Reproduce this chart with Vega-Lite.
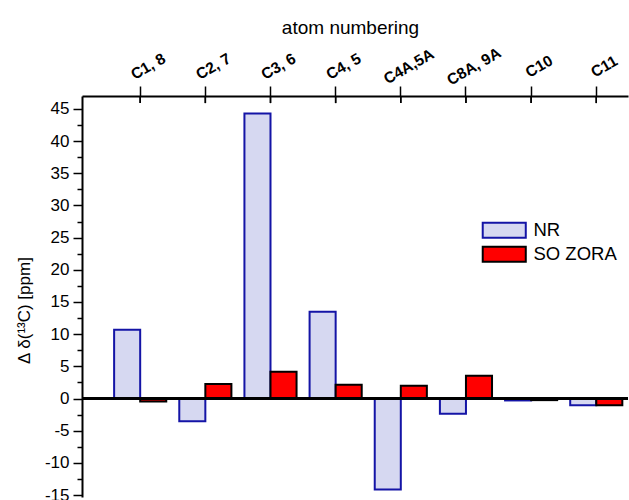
{
  "$schema": "https://vega.github.io/schema/vega-lite/v6.json",
  "width": 546,
  "height": 401,
  "autosize": "none",
  "padding": {"left": 82, "top": 96, "right": 1, "bottom": 3},
  "background": "white",
  "config": {
    "view": {"stroke": null},
    "font": "Liberation Sans",
    "axis": {"labelFont": "Liberation Sans", "titleFont": "Liberation Sans", "labelColor": "black", "titleColor": "black", "domainColor": "black", "tickColor": "black", "grid": false}
  },
  "data": {
    "values": [
      {"atom": "C1, 8", "series": "NR", "value": 10.7},
      {"atom": "C1, 8", "series": "SO ZORA", "value": -0.45},
      {"atom": "C2, 7", "series": "NR", "value": -3.55},
      {"atom": "C2, 7", "series": "SO ZORA", "value": 2.25},
      {"atom": "C3, 6", "series": "NR", "value": 44.3},
      {"atom": "C3, 6", "series": "SO ZORA", "value": 4.15},
      {"atom": "C4, 5", "series": "NR", "value": 13.5},
      {"atom": "C4, 5", "series": "SO ZORA", "value": 2.15},
      {"atom": "C4A,5A", "series": "NR", "value": -14.15},
      {"atom": "C4A,5A", "series": "SO ZORA", "value": 2.0},
      {"atom": "C8A, 9A", "series": "NR", "value": -2.35},
      {"atom": "C8A, 9A", "series": "SO ZORA", "value": 3.55},
      {"atom": "C10", "series": "NR", "value": -0.3},
      {"atom": "C10", "series": "SO ZORA", "value": -0.25},
      {"atom": "C11", "series": "NR", "value": -1.05},
      {"atom": "C11", "series": "SO ZORA", "value": -1.05}
    ]
  },
  "encoding": {
    "x": {
      "field": "atom", "type": "nominal", "sort": null,
      "scale": {"paddingInner": 0.2, "paddingOuter": 0.29, "align": 0.85},
      "axis": {
        "orient": "top",
        "title": "atom numbering",
        "titleFontSize": 19, "titleFontWeight": "normal",
        "titleX": 268, "titleY": -69, "titleAlign": "center", "titleBaseline": "middle",
        "labelAngle": -30, "labelFontSize": 15.5, "labelFontWeight": "bold",
        "labelAlign": "center", "labelBaseline": "middle",
        "labelPadding": 20, "labelOffset": 8,
        "tickSize": 10, "tickWidth": 1.5, "domainWidth": 2
      }
    },
    "y": {
      "field": "value", "type": "quantitative",
      "scale": {"domain": [-15.3, 47], "nice": false, "zero": false},
      "axis": {
        "orient": "left",
        "title": "Δ δ(¹³C) [ppm]",
        "titleFontSize": 17, "titleFontWeight": "normal",
        "titleX": -58, "titleY": 214, "titleAlign": "center", "titleBaseline": "middle", "titleAngle": -90,
        "values": [-15, -12.5, -10, -7.5, -5, -2.5, 0, 2.5, 5, 7.5, 10, 12.5, 15, 17.5, 20, 22.5, 25, 27.5, 30, 32.5, 35, 37.5, 40, 42.5, 45],
        "labelExpr": "datum.value % 5 === 0 ? '' + datum.value : ''",
        "labelOverlap": false,
        "labelFontSize": 17, "labelPadding": 4,
        "tickSize": {"condition": {"test": "datum.value % 5 === 0", "value": 9}, "value": 5},
        "tickWidth": 1.5, "domainWidth": 2
      }
    }
  },
  "layer": [
    {
      "mark": {"type": "bar", "strokeWidth": 2},
      "encoding": {
        "xOffset": {"field": "series", "type": "nominal", "scale": {"paddingInner": 0, "paddingOuter": 0}},
        "fill": {
          "field": "series", "type": "nominal",
          "scale": {"domain": ["NR", "SO ZORA"], "range": ["#d6d8f1", "#ff0000"]},
          "legend": {
            "orient": "none", "legendX": 413, "legendY": 125, "title": null,
            "symbolType": "M-2.87,-1H2.87V1H-2.87Z", "symbolSize": 225,
            "symbolStrokeWidth": 2, "labelFontSize": 18.5, "labelFont": "Liberation Sans", "labelColor": "black",
            "labelOffset": 20, "rowPadding": 0, "padding": 0
          }
        },
        "stroke": {
          "field": "series", "type": "nominal",
          "scale": {"domain": ["NR", "SO ZORA"], "range": ["#1414a6", "#000000"]},
          "legend": null
        }
      }
    },
    {
      "mark": {"type": "rule", "color": "black", "strokeWidth": 1.5},
      "encoding": {"x": null, "y": {"datum": 0, "type": "quantitative", "axis": {
        "orient": "left",
        "title": "Δ δ(¹³C) [ppm]",
        "titleFontSize": 17, "titleFontWeight": "normal",
        "titleX": -58, "titleY": 214, "titleAlign": "center", "titleBaseline": "middle", "titleAngle": -90,
        "values": [-15, -12.5, -10, -7.5, -5, -2.5, 0, 2.5, 5, 7.5, 10, 12.5, 15, 17.5, 20, 22.5, 25, 27.5, 30, 32.5, 35, 37.5, 40, 42.5, 45],
        "labelExpr": "datum.value % 5 === 0 ? '' + datum.value : ''",
        "labelOverlap": false,
        "labelFontSize": 17, "labelPadding": 4,
        "tickSize": {"condition": {"test": "datum.value % 5 === 0", "value": 9}, "value": 5},
        "tickWidth": 1.5, "domainWidth": 2
      }}}
    },
    {
      "mark": {"type": "rule", "color": "black", "strokeWidth": 1.5},
      "encoding": {
        "y": {"datum": 47, "type": "quantitative", "axis": {
        "orient": "left",
        "title": "Δ δ(¹³C) [ppm]",
        "titleFontSize": 17, "titleFontWeight": "normal",
        "titleX": -58, "titleY": 214, "titleAlign": "center", "titleBaseline": "middle", "titleAngle": -90,
        "values": [-15, -12.5, -10, -7.5, -5, -2.5, 0, 2.5, 5, 7.5, 10, 12.5, 15, 17.5, 20, 22.5, 25, 27.5, 30, 32.5, 35, 37.5, 40, 42.5, 45],
        "labelExpr": "datum.value % 5 === 0 ? '' + datum.value : ''",
        "labelOverlap": false,
        "labelFontSize": 17, "labelPadding": 4,
        "tickSize": {"condition": {"test": "datum.value % 5 === 0", "value": 9}, "value": 5},
        "tickWidth": 1.5, "domainWidth": 2
      }},
        "y2": {"datum": 45.9}
      }
    }
  ]
}
